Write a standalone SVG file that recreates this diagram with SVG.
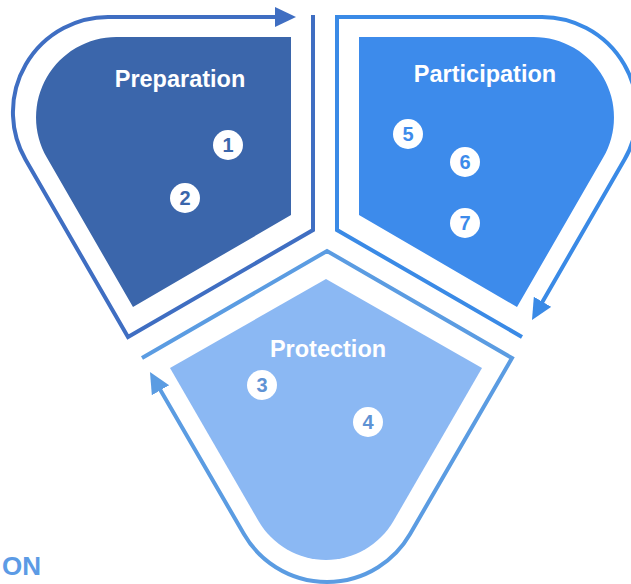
<svg xmlns="http://www.w3.org/2000/svg" width="631" height="584" viewBox="0 0 631 584">
  <style>
    .lbl { font-family: "Liberation Sans", Arial, sans-serif; font-weight: bold; font-size: 23.5px; fill: #ffffff; text-anchor: middle; }
    .num { font-family: "Liberation Sans", Arial, sans-serif; font-weight: bold; font-size: 20px; text-anchor: middle; }
    .dot { fill: #ffffff; }
    .edge { fill: none; stroke-width: 4; stroke-linejoin: miter; }
  </style>
  <defs>
    <marker id="arrPrep" markerUnits="userSpaceOnUse" markerWidth="22" markerHeight="22" refX="2" refY="10" orient="auto">
      <path d="M0,0 L21,10 L0,20 Z" fill="#3F6EC2"/>
    </marker>
    <marker id="arrPart" markerUnits="userSpaceOnUse" markerWidth="22" markerHeight="22" refX="2" refY="10" orient="auto">
      <path d="M0,0 L21,10 L0,20 Z" fill="#3A8AE6"/>
    </marker>
    <marker id="arrProt" markerUnits="userSpaceOnUse" markerWidth="22" markerHeight="22" refX="2" refY="10" orient="auto">
      <path d="M0,0 L21,10 L0,20 Z" fill="#5B9CE2"/>
    </marker>
  </defs>

  <g id="preparation">
    <path d="M291,37 V215 L133,307 L46.8,157.6 A80.4,80.4 0 0 1 116.4,37 Z" fill="#3B66AB"/>
    <text class="lbl" x="180" y="87">Preparation</text>
    <circle class="dot" cx="228" cy="145" r="15"/>
    <text class="num" x="228" y="152" fill="#3B66AB">1</text>
    <circle class="dot" cx="185" cy="198" r="15"/>
    <text class="num" x="185" y="205" fill="#3B66AB">2</text>
  </g>

  <g id="participation">
    <path d="M359,37 H533.6 A80.4,80.4 0 0 1 603.2,157.6 L517,307 L359,215 Z" fill="#3D8BEB"/>
    <text class="lbl" x="485" y="82">Participation</text>
    <circle class="dot" cx="408" cy="134" r="15"/>
    <text class="num" x="408" y="141" fill="#3D8BEB">5</text>
    <circle class="dot" cx="465" cy="162" r="15"/>
    <text class="num" x="465" y="169" fill="#3D8BEB">6</text>
    <circle class="dot" cx="465" cy="223" r="15"/>
    <text class="num" x="465" y="230" fill="#3D8BEB">7</text>
  </g>

  <g id="protection">
    <path d="M326,279 L482,368 L393.5,521 A78,78 0 0 1 258.5,521 L170,368 Z" fill="#8BB8F3"/>
    <text class="lbl" x="328" y="357">Protection</text>
    <circle class="dot" cx="262" cy="385" r="15"/>
    <text class="num" x="262" y="392" fill="#5F93D4">3</text>
    <circle class="dot" cx="368" cy="422" r="15"/>
    <text class="num" x="368" y="429" fill="#5F93D4">4</text>
  </g>

  <g id="connectors">
    <path class="edge" stroke="#3F6EC2" d="M313,15 V230 L128,337 L25.5,159.6 A95.3,95.3 0 0 1 108,17 H277" marker-end="url(#arrPrep)"/>
    <path class="edge" stroke="#3A8AE6" d="M522,337 L337,230 V17 H542 A95.3,95.3 0 0 1 624.5,159.6 L541.5,303.5" marker-end="url(#arrPart)"/>
    <path class="edge" stroke="#5B9CE2" d="M142,358 L327,251 L512,358 L410.1,534 A96,96 0 0 1 243.9,534 L159.5,388.5" marker-end="url(#arrProt)"/>
  </g>

  <text x="2" y="575" font-family="Liberation Sans, Arial, sans-serif" font-weight="bold" font-size="26" fill="#5C9BE5">ON</text>
</svg>
